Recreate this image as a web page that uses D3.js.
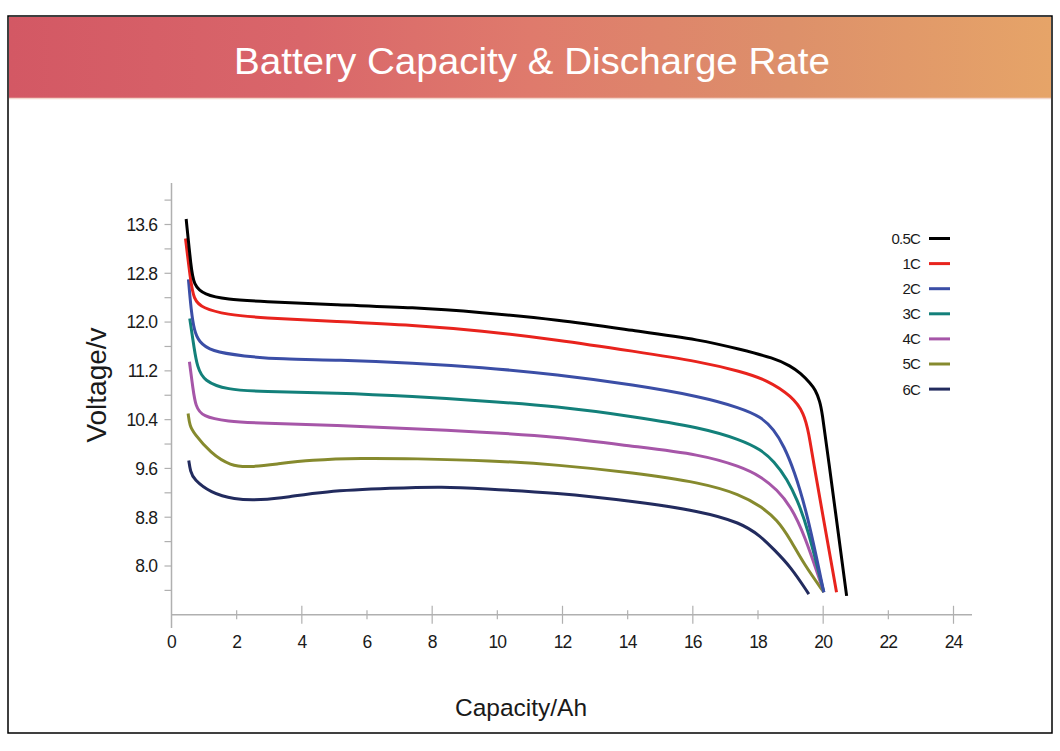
<!DOCTYPE html>
<html><head><meta charset="utf-8">
<script src="https://cdn.jsdelivr.net/npm/d3@7"></script>
<style>html,body{margin:0;padding:0;background:#fff;}svg{display:block;font-family:"Liberation Sans",Arial,sans-serif;}</style>
</head><body>
<script>
const title = "Battery Capacity & Discharge Rate";
const xLabel = "Capacity/Ah";
const yLabel = "Voltage/v";
const xTicks = [0,2,4,6,8,10,12,14,16,18,20,22,24];
const yTickLabels = [8.0,8.8,9.6,10.4,11.2,12.0,12.8,13.6];
const yMinorTicks = [7.6,8.4,9.2,10.0,10.8,11.6,12.4,13.2,14.0];
const seriesNames = ["0.5C","1C","2C","3C","4C","5C","6C"];
const seriesColors = ["#000000","#e8231d","#3b4ea6","#13807a","#a656a8","#868a2e","#222b5e"];

const s05C = [[0.45,13.69],[0.60,12.90],[0.68,12.61],[0.99,12.45],[1.71,12.37],[2.73,12.34],[5.09,12.28],[7.44,12.24],[9.48,12.16],[11.84,12.04],[14.19,11.86],[16.24,11.71],[17.47,11.55],[18.49,11.41],[19.00,11.28],[19.31,11.16],[19.60,11.00],[19.76,10.89],[19.90,10.70],[19.97,10.51],[20.10,10.00],[20.72,7.51]];
const s1C  = [[0.43,13.37],[0.58,12.70],[0.68,12.37],[0.94,12.23],[1.71,12.12],[2.73,12.07],[5.09,12.01],[7.44,11.95],[9.48,11.86],[11.84,11.71],[14.19,11.52],[16.24,11.35],[17.47,11.19],[18.28,11.05],[19.05,10.78],[19.41,10.51],[19.56,10.18],[19.70,9.70],[20.41,7.57]];
const s2C  = [[0.52,12.70],[0.60,12.20],[0.70,11.85],[0.84,11.68],[1.20,11.52],[2.22,11.44],[3.35,11.39],[5.09,11.38],[7.44,11.33],[9.48,11.26],[11.84,11.14],[14.19,10.97],[16.24,10.78],[17.47,10.59],[18.08,10.45],[18.49,10.24],[18.80,9.96],[19.10,9.58],[19.51,8.87],[20.02,7.57]];
const s3C  = [[0.56,12.06],[0.70,11.55],[0.79,11.27],[0.99,11.03],[1.71,10.89],[2.73,10.86],[5.09,10.84],[7.44,10.78],[9.48,10.71],[11.84,10.62],[14.19,10.45],[16.24,10.27],[17.47,10.07],[18.08,9.91],[18.49,9.72],[18.90,9.42],[19.20,9.09],[19.51,8.65],[20.02,7.57]];
const s4C  = [[0.55,11.35],[0.66,10.90],[0.74,10.62],[0.94,10.45],[1.71,10.37],[2.73,10.34],[5.09,10.31],[7.44,10.25],[9.48,10.20],[11.84,10.12],[14.19,9.96],[16.24,9.83],[17.47,9.63],[18.08,9.47],[18.59,9.25],[19.00,8.98],[19.41,8.54],[20.02,7.57]];
const s5C  = [[0.51,10.50],[0.56,10.30],[0.68,10.18],[1.20,9.85],[1.81,9.64],[2.40,9.62],[3.20,9.67],[4.27,9.74],[5.80,9.77],[7.44,9.76],[9.79,9.73],[11.84,9.66],[14.19,9.53],[16.24,9.37],[17.47,9.17],[18.08,8.98],[18.59,8.76],[19.00,8.43],[19.41,8.03],[20.02,7.57]];
const s6C  = [[0.53,9.73],[0.58,9.55],[0.68,9.42],[1.20,9.20],[1.91,9.09],[2.73,9.08],[3.60,9.13],[4.57,9.22],[6.82,9.28],[8.36,9.30],[9.48,9.27],[11.84,9.20],[14.19,9.06],[16.24,8.90],[17.47,8.71],[18.08,8.49],[18.49,8.27],[19.00,7.99],[19.56,7.54]];
const seriesData = [s05C,s1C,s2C,s3C,s4C,s5C,s6C];

const W = 1060, H = 751;
const svg = d3.select("body").append("svg").attr("width", W).attr("height", H);

// gradient header
const defs = svg.append("defs");
const grad = defs.append("linearGradient").attr("id","hdr").attr("x1","0").attr("x2","1").attr("y1","0").attr("y2","0");
[[0,"#d35864"],[0.28,"#d9666a"],[0.5,"#df7a6c"],[0.75,"#dd906a"],[1,"#e6a468"]].forEach(s=>grad.append("stop").attr("offset",s[0]).attr("stop-color",s[1]));

svg.append("rect").attr("x",8).attr("y",16).attr("width",1044).attr("height",717).attr("fill","#fff").attr("stroke","#000").attr("stroke-width",1.5);
svg.append("rect").attr("x",9).attr("y",17).attr("width",1042).attr("height",81).attr("fill","url(#hdr)");
svg.append("line").attr("x1",9).attr("x2",1051).attr("y1",98.5).attr("y2",98.5).attr("stroke","#f3d6cc").attr("stroke-width",1.5);
svg.append("text").attr("x",532).attr("y",74).attr("text-anchor","middle").attr("fill","#fff").attr("font-size",37)
  .attr("textLength",596).attr("lengthAdjust","spacingAndGlyphs").text(title);

const x = d3.scaleLinear().domain([0,24]).range([171.5,953.5]);
const y = d3.scaleLinear().domain([8.0,13.6]).range([566,224.5]);
const axisColor = "#b0b0b0";
const g = svg.append("g");

// y axis line
g.append("line").attr("x1",x(0)).attr("x2",x(0)).attr("y1",183).attr("y2",628).attr("stroke",axisColor).attr("stroke-width",1.5);
// x axis line
g.append("line").attr("x1",x(0)).attr("x2",972).attr("y1",y(7.2)).attr("y2",y(7.2)).attr("stroke",axisColor).attr("stroke-width",1.5);

// y ticks
g.selectAll(".yt").data(yTickLabels.concat(yMinorTicks)).join("line")
  .attr("x1",x(0)-7).attr("x2",x(0)).attr("y1",d=>y(d)).attr("y2",d=>y(d)).attr("stroke",axisColor).attr("stroke-width",1.2);
g.selectAll(".yl").data(yTickLabels).join("text")
  .attr("x",157).attr("y",d=>y(d)).attr("dy","0.36em").attr("text-anchor","end").attr("font-size",17.5).attr("letter-spacing",-0.9).attr("fill","#1a1a1a")
  .text(d=>d.toFixed(1));

// x ticks
const x0 = y(7.2);
g.selectAll(".xt").data(xTicks.filter(d=>d>0)).join("line")
  .attr("x1",d=>x(d)).attr("x2",d=>x(d))
  .attr("y1",d=>d%4===0? x0-9 : x0-4.5).attr("y2",d=>d%4===0? x0+9 : x0+4.5)
  .attr("stroke",axisColor).attr("stroke-width",1.2);
g.selectAll(".xl").data(xTicks).join("text")
  .attr("x",d=>x(d)).attr("y",648).attr("text-anchor","middle").attr("font-size",17.5).attr("letter-spacing",-0.9).attr("fill","#1a1a1a").text(d=>d);

// axis titles
svg.append("text").attr("transform","translate(106,385) rotate(-90)").attr("text-anchor","middle").attr("font-size",28).attr("fill","#1a1a1a").text(yLabel);
svg.append("text").attr("x",521).attr("y",716).attr("text-anchor","middle").attr("font-size",24.5).attr("fill","#1a1a1a").text(xLabel);

// lines
const line = d3.line().x(d=>x(d[0])).y(d=>y(d[1])).curve(d3.curveBasis);
const order = [6,5,4,3,2,1,0];
order.forEach(i=>{
  svg.append("path").attr("d",line(seriesData[i])).attr("fill","none").attr("stroke",seriesColors[i]).attr("stroke-width",3).attr("stroke-linejoin","round");
});

// legend
const leg = svg.append("g");
seriesNames.forEach((n,i)=>{
  const yy = 238.5 + i*25.1;
  leg.append("text").attr("x",920).attr("y",yy).attr("dy","0.36em").attr("text-anchor","end").attr("font-size",15).attr("letter-spacing",-0.8).attr("fill","#1a1a1a").text(n);
  leg.append("line").attr("x1",929).attr("x2",950).attr("y1",yy).attr("y2",yy).attr("stroke",seriesColors[i]).attr("stroke-width",3);
});
</script>
</body></html>
